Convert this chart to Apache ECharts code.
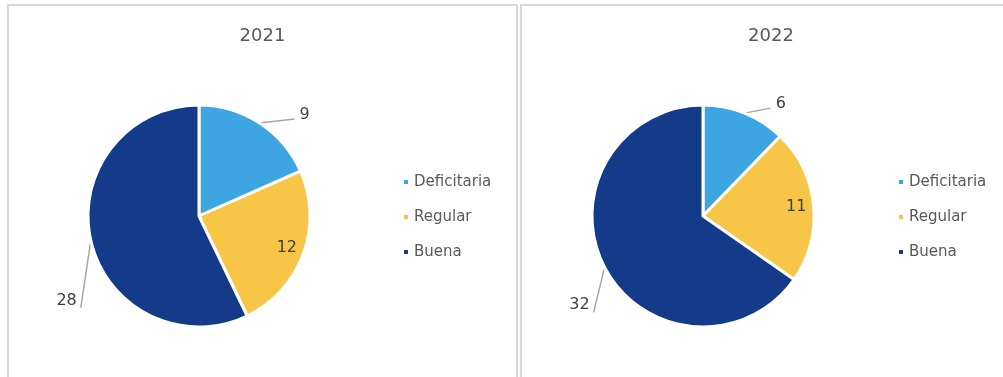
<!DOCTYPE html>
<html>
<head>
<meta charset="utf-8">
<style>
  html, body { margin: 0; padding: 0; background: #ffffff; }
  #chart { width: 1003px; height: 377px; }
</style>
<script src="https://cdn.jsdelivr.net/npm/echarts@6/dist/echarts.min.js"></script>
</head>
<body>
<div id="chart"></div>
<script>
// Quality ratings per year
const categories = ['Deficitaria', 'Regular', 'Buena'];
const years = ['2021', '2022'];
const values2021 = [9, 12, 28];
const values2022 = [6, 11, 32];

const palette = ['#3EA5E3', '#F7C647', '#143B8A'];
const FONT = '"DejaVu Sans", sans-serif';
const TEXT = '#404040';

// Panel geometry (one framed panel per year)
const panels = [
  { left: 8, width: 509, pieCenter: [199, 216], legendLeft: 402, values: values2021,
    leaders: { Deficitaria: [35, -4], Buena: [-10, 67] } },
  { left: 521, width: 500, pieCenter: [703, 216], legendLeft: 897, values: values2022,
    leaders: { Deficitaria: [26, -5], Buena: [-11, 45] } }
];
const RADIUS = 111;
const INSIDE_RATIO = 1.6; // inside labels sit at ~0.8 of the radius

function labelLayoutFor(panel) {
  return function (params) {
    const name = categories[params.dataIndex];
    const lead = panel.leaders[name];
    if (lead && params.labelLinePoints) {
      const start = params.labelLinePoints[0];
      const end = [start[0] + lead[0], start[1] + lead[1]];
      const right = lead[0] > 0;
      return {
        x: right ? end[0] + 5 : end[0] - 4,
        y: right ? end[1] - 4 : end[1] + 1,
        align: right ? 'left' : 'right',
        verticalAlign: right ? 'middle' : 'bottom',
        labelLinePoints: [[start[0], start[1]], end]
      };
    }
    // inside label: push outward along its own direction from the pie centre
    const r = params.labelRect;
    const lx = r.x + r.width / 2, ly = r.y + r.height / 2;
    const c = panel.pieCenter;
    return {
      x: c[0] + (lx - c[0]) * INSIDE_RATIO,
      y: c[1] + (ly - c[1]) * INSIDE_RATIO,
      align: 'center',
      verticalAlign: 'middle'
    };
  };
}

function pieData(values) {
  return categories.map(function (name, i) {
    const item = { name: name, value: values[i] };
    if (name === 'Regular') {
      item.label = { position: 'inside' };
      item.labelLine = { show: false };
    }
    return item;
  });
}

const option = {
  animation: false,
  color: palette,
  textStyle: { fontFamily: FONT },
  graphic: panels.map(function (p) {
    return {
      type: 'rect',
      silent: true,
      shape: { x: p.left, y: 5, width: p.width, height: 420 },
      style: { fill: 'none', stroke: '#D9D9D9', lineWidth: 2 }
    };
  }),
  title: years.map(function (y, i) {
    const p = panels[i];
    return {
      text: y,
      left: p.left + p.width / 2,
      textAlign: 'center',
      top: 27,
      padding: 0,
      textStyle: { fontFamily: FONT, fontSize: 18, fontWeight: 'normal', color: '#595959' }
    };
  }),
  legend: panels.map(function (p) {
    return {
      data: categories,
      orient: 'vertical',
      left: p.legendLeft,
      top: 172,
      padding: 0,
      itemWidth: 6,
      itemHeight: 6,
      itemGap: 15,
      icon: 'rect',
      selectedMode: false,
      textStyle: { fontFamily: FONT, fontSize: 15, color: '#595959', lineHeight: 20 }
    };
  }),
  series: panels.map(function (p, i) {
    return {
      type: 'pie',
      name: years[i],
      center: p.pieCenter,
      radius: RADIUS,
      startAngle: 90,
      clockwise: true,
      avoidLabelOverlap: false,
      itemStyle: { borderColor: '#ffffff', borderWidth: 3 },
      label: {
        show: true,
        position: 'outside',
        formatter: '{c}',
        fontFamily: FONT,
        fontSize: 16,
        color: TEXT
      },
      labelLine: {
        show: true,
        length: 5,
        length2: 10,
        smooth: false,
        lineStyle: { color: '#A6A6A6', width: 1.5 }
      },
      labelLayout: labelLayoutFor(p),
      emphasis: { disabled: true },
      data: pieData(p.values)
    };
  })
};

const chart = echarts.init(document.getElementById('chart'), null, { renderer: 'canvas' });
chart.setOption(option);
</script>
</body>
</html>
